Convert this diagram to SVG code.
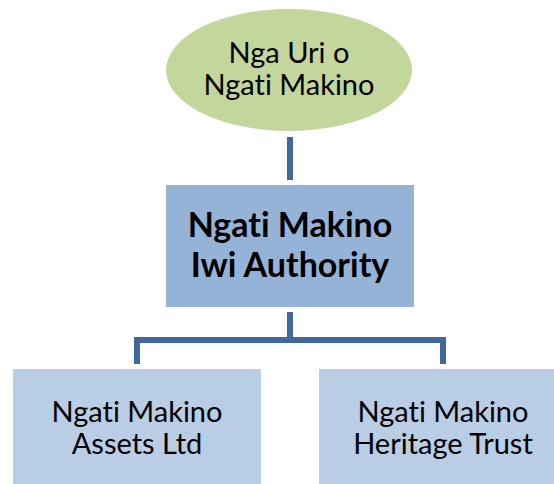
<svg xmlns="http://www.w3.org/2000/svg" width="554" height="484" viewBox="0 0 554 484">
  <style>
    .label { font-family: Lato, "Liberation Sans", sans-serif; font-size: 29px; fill: #000; text-anchor: middle; font-variant-ligatures: none; }
    .bold { font-weight: bold; font-size: 34px; }
    .link { stroke: #41689C; stroke-width: 6; fill: none; }
  </style>
  <rect width="554" height="484" fill="#fff"/>

  <g id="connectors">
    <line class="link" x1="290" y1="137" x2="290" y2="180"/>
    <line class="link" x1="290" y1="312" x2="290" y2="340"/>
    <polyline class="link" points="137,364 137,340 443,340 443,364"/>
  </g>

  <g id="nga-uri">
    <ellipse cx="289" cy="70" rx="123" ry="61" fill="#C3D69B"/>
    <text class="label" x="289" y="63">Nga Uri o</text>
    <text class="label" x="289" y="95">Ngati Makino</text>
  </g>

  <g id="iwi-authority">
    <rect x="166" y="185" width="248" height="122" fill="#95B3D7"/>
    <text class="label bold" x="290" y="237">Ngati Makino</text>
    <text class="label bold" x="290" y="277">Iwi Authority</text>
  </g>

  <g id="assets">
    <rect x="13" y="369" width="248" height="118" fill="#B9CDE5"/>
    <text class="label" x="137" y="422">Ngati Makino</text>
    <text class="label" x="137" y="454">Assets Ltd</text>
  </g>

  <g id="heritage">
    <rect x="319" y="369" width="248" height="118" fill="#B9CDE5"/>
    <text class="label" x="443" y="422">Ngati Makino</text>
    <text class="label" x="443" y="454">Heritage Trust</text>
  </g>
</svg>
